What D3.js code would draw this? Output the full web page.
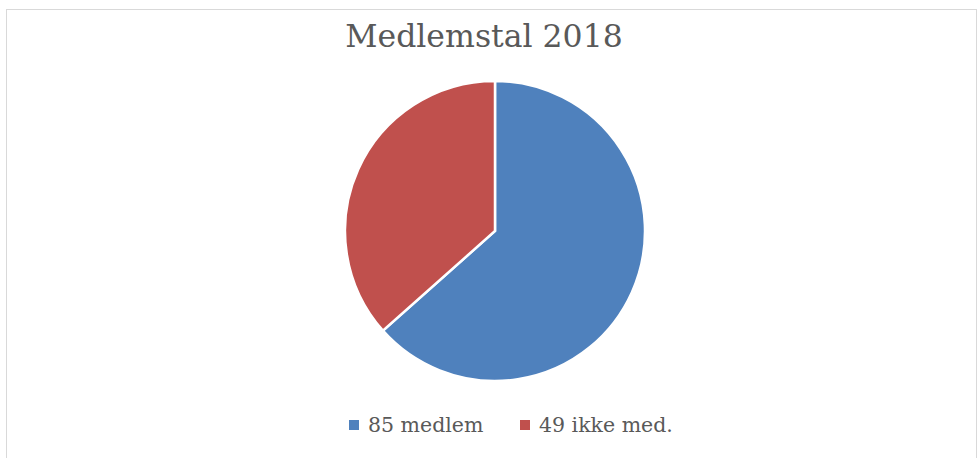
<!DOCTYPE html>
<html>
<head>
<meta charset="utf-8">
<script src="https://cdn.jsdelivr.net/npm/d3@7"></script>
<style>
  body { margin: 0; background: #fff; }
  svg { display: block; }
</style>
</head>
<body>
<div id="chart"></div>
<script>
// Data
var categories = ["85 medlem", "49 ikke med."];
var values = [85, 49];
var colors = ["#4F81BD", "#C0504D"];
var title = "Medlemstal 2018";

var width = 978,
    height = 458;

var svg = d3.select("#chart")
            .append("svg")
             .attr("width", width)
             .attr("height", height);

// Frame
svg.append("rect")
   .attr("x", 6.5).attr("y", 9.5)
   .attr("width", 970).attr("height", 460)
   .attr("fill", "none")
   .attr("stroke", "#d9d9d9");

// Title
svg.append("text")
   .attr("x", 484).attr("y", 47)
   .attr("text-anchor", "middle")
   .attr("font-family", "DejaVu Serif, Liberation Serif, serif")
   .attr("font-size", 31.5)
   .attr("fill", "#595959")
   .text(title);

// Pie
var radius = 150;
var pie = d3.pie().sort(null);
var arc = d3.arc().innerRadius(0).outerRadius(radius);

var g = svg.append("g")
           .attr("transform", "translate(495,231)");

g.selectAll("path")
 .data(pie(values))
 .enter()
 .append("path")
  .attr("d", arc)
  .attr("fill", function(d, i) { return colors[i]; })
  .attr("stroke", "#fff")
  .attr("stroke-width", 2.5);

// Legend
var legendX = [349, 520];
var legend = svg.selectAll(".legend")
                .data(categories)
                .enter()
                .append("g")
                 .attr("transform", function(d, i) { return "translate(" + legendX[i] + ",420)"; });

legend.append("rect")
      .attr("width", 10).attr("height", 10)
      .attr("fill", function(d, i) { return colors[i]; });

legend.append("text")
      .attr("x", 19).attr("y", 12)
      .attr("font-family", "DejaVu Serif, Liberation Serif, serif")
      .attr("font-size", 20.5)
      .attr("fill", "#595959")
      .text(function(d) { return d; });
</script>
</body>
</html>
